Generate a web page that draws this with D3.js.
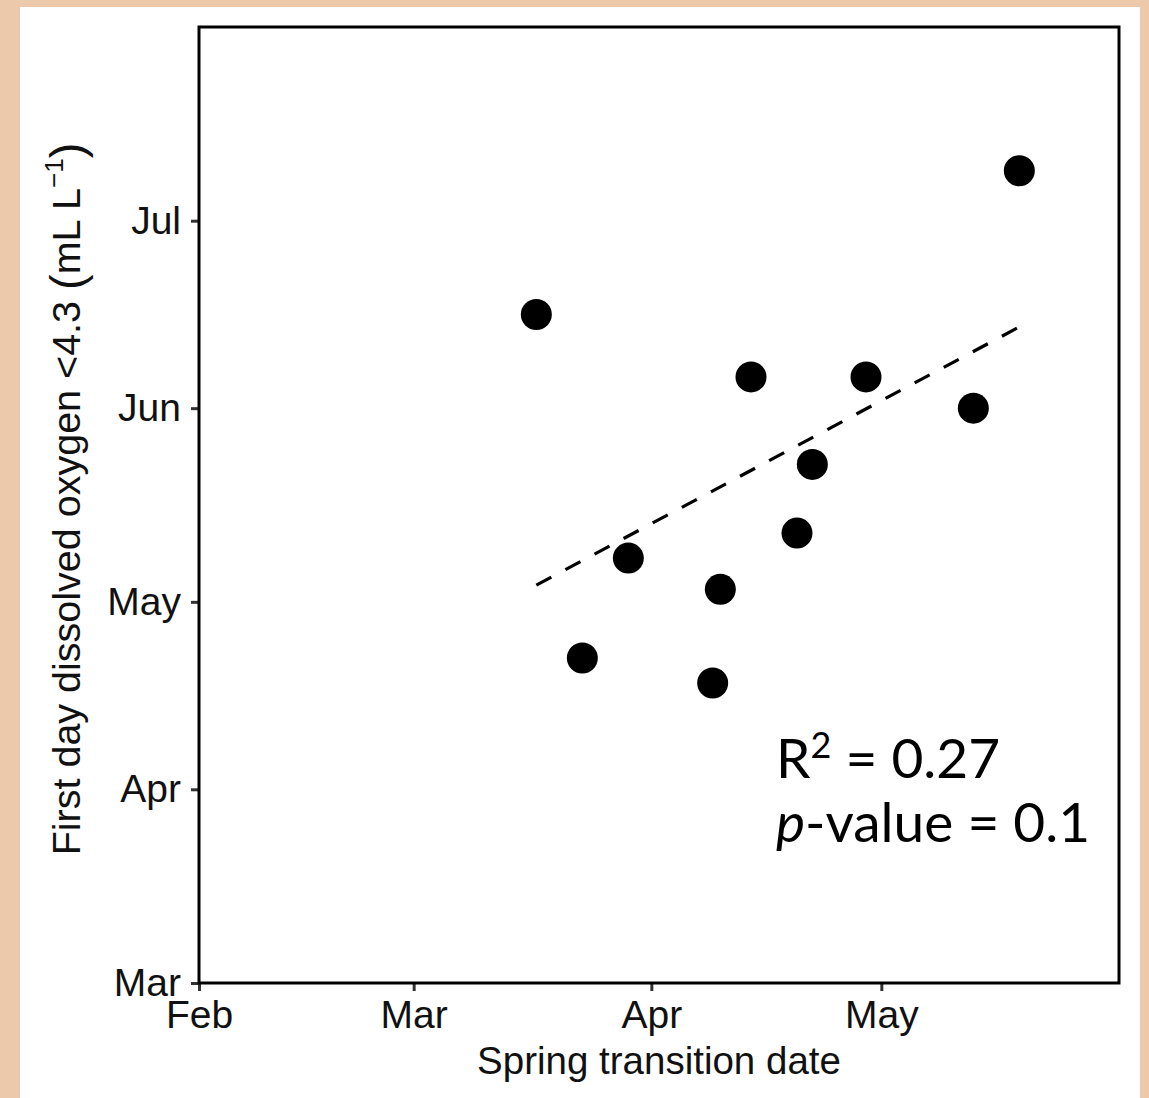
<!DOCTYPE html>
<html>
<head>
<meta charset="utf-8">
<script src="https://cdn.jsdelivr.net/npm/d3@7"></script>
<style>
  html, body { margin: 0; padding: 0; background: #ecc9ab; }
  svg { display: block; }
</style>
</head>
<body>
<div id="chart"></div>
<script>
// spring transition date vs first day of low dissolved oxygen
const transitionDates = ['2015-03-17', '2015-03-23', '2015-03-29', '2015-04-09', '2015-04-10',
                         '2015-04-14', '2015-04-20', '2015-04-22', '2015-04-29', '2015-05-13', '2015-05-19']
const hypoxiaDates    = ['2015-06-16', '2015-04-22', '2015-05-08', '2015-04-18', '2015-05-03',
                         '2015-06-06', '2015-05-12', '2015-05-23', '2015-06-06', '2015-06-01', '2015-07-09']
const fitX = ['2015-03-17', '2015-05-19']
const fitY = ['2015-05-03T16:00', '2015-06-14']
const xTicks = ['2015-02-01', '2015-03-01', '2015-04-01', '2015-05-01']
const yTicks = ['2015-03-01', '2015-04-01', '2015-05-01', '2015-06-01', '2015-07-01']
const rSquared = '0.27'
const pValue = '0.1'

const width = 1149, height = 1098
const margin = { top: 27, right: 30, bottom: 115, left: 199 }
const parse = d3.isoParse

const svg = d3.select('#chart').append('svg')
  .attr('width', width)
  .attr('height', height)

svg.append('rect').attr('width', width).attr('height', height).attr('fill', '#ecc9ab')
svg.append('rect')
  .attr('x', 20).attr('y', 7)
  .attr('width', 1120).attr('height', height)
  .attr('fill', '#fff')

const x = d3.scaleTime()
  .domain([parse('2015-02-01'), parse('2015-06-01')])
  .range([margin.left, width - margin.right])

const y = d3.scaleTime()
  .domain([parse('2015-03-01'), parse('2015-08-01')])
  .range([height - margin.bottom, margin.top])

const fmt = d3.timeFormat('%b')
const axisFont = 'Liberation Sans, Arial, Helvetica, sans-serif'

// x axis
const gx = svg.append('g')
  .attr('transform', `translate(0,${y.range()[0]})`)
  .call(d3.axisBottom(x).tickValues(xTicks.map(parse)).tickFormat(fmt).tickSize(8).tickPadding(9))
gx.select('.domain').remove()
gx.selectAll('line').attr('stroke', '#333').attr('stroke-width', 3)
gx.selectAll('text').attr('font-family', axisFont).attr('font-size', 39).attr('fill', '#111')

// y axis
const gy = svg.append('g')
  .attr('transform', `translate(${x.range()[0]},0)`)
  .call(d3.axisLeft(y).tickValues(yTicks.map(parse)).tickFormat(fmt).tickSize(8).tickPadding(10))
gy.select('.domain').remove()
gy.selectAll('line').attr('stroke', '#333').attr('stroke-width', 3)
gy.selectAll('text').attr('font-family', axisFont).attr('font-size', 39).attr('fill', '#111')

// panel border
svg.append('rect')
  .attr('x', x.range()[0]).attr('y', y.range()[1])
  .attr('width', x.range()[1] - x.range()[0])
  .attr('height', y.range()[0] - y.range()[1])
  .attr('fill', 'none')
  .attr('stroke', '#000')
  .attr('stroke-width', 3)

// axis titles
svg.append('text')
  .attr('x', (x.range()[0] + x.range()[1]) / 2)
  .attr('y', 1074)
  .attr('text-anchor', 'middle')
  .attr('font-family', axisFont)
  .attr('font-size', 38.5)
  .attr('fill', '#111')
  .text('Spring transition date')

const yTitle = svg.append('text')
  .attr('transform', `translate(80,${(y.range()[0] + y.range()[1]) / 2 - 6}) rotate(-90)`)
  .attr('text-anchor', 'middle')
  .attr('font-family', axisFont)
  .attr('font-size', 39.5)
  .attr('fill', '#111')
yTitle.append('tspan').text('First day dissolved oxygen <4.3 ')
yTitle.append('tspan').attr('font-size', 47).attr('dy', 3).text('(')
yTitle.append('tspan').attr('dy', -3).text('mL L')
yTitle.append('tspan').attr('font-size', 26).attr('dy', -17).text('−1')
yTitle.append('tspan').attr('font-size', 47).attr('dy', 20).text(')')

// regression line
const fit = fitX.map((d, i) => [parse(d), parse(fitY[i])])
svg.append('path')
  .datum(fit)
  .attr('d', d3.line().x(d => x(d[0])).y(d => y(d[1])))
  .attr('fill', 'none')
  .attr('stroke', '#000')
  .attr('stroke-width', 3.2)
  .attr('stroke-dasharray', '17,16')

// points
svg.append('g')
  .selectAll('circle')
  .data(transitionDates.map((d, i) => ({ x: parse(d), y: parse(hypoxiaDates[i]) })))
  .enter()
  .append('circle')
    .attr('cx', d => x(d.x))
    .attr('cy', d => y(d.y))
    .attr('r', 15.5)
    .attr('fill', '#000')

// stats annotation
const stats = svg.append('text')
  .attr('font-family', 'Lato, Inter, sans-serif')
  .attr('font-size', 55)
  .attr('fill', '#000')
const rLine = stats.append('tspan').attr('x', 776).attr('y', 778)
rLine.append('tspan').text('R')
rLine.append('tspan').attr('font-size', 36).attr('dy', -20).text('2')
rLine.append('tspan').attr('dy', 20).text(` = ${rSquared}`)
const pLine = stats.append('tspan').attr('x', 776).attr('y', 842)
pLine.append('tspan').attr('font-style', 'italic').text('p')
pLine.append('tspan').text(`-value = ${pValue}`)
</script>
</body>
</html>
